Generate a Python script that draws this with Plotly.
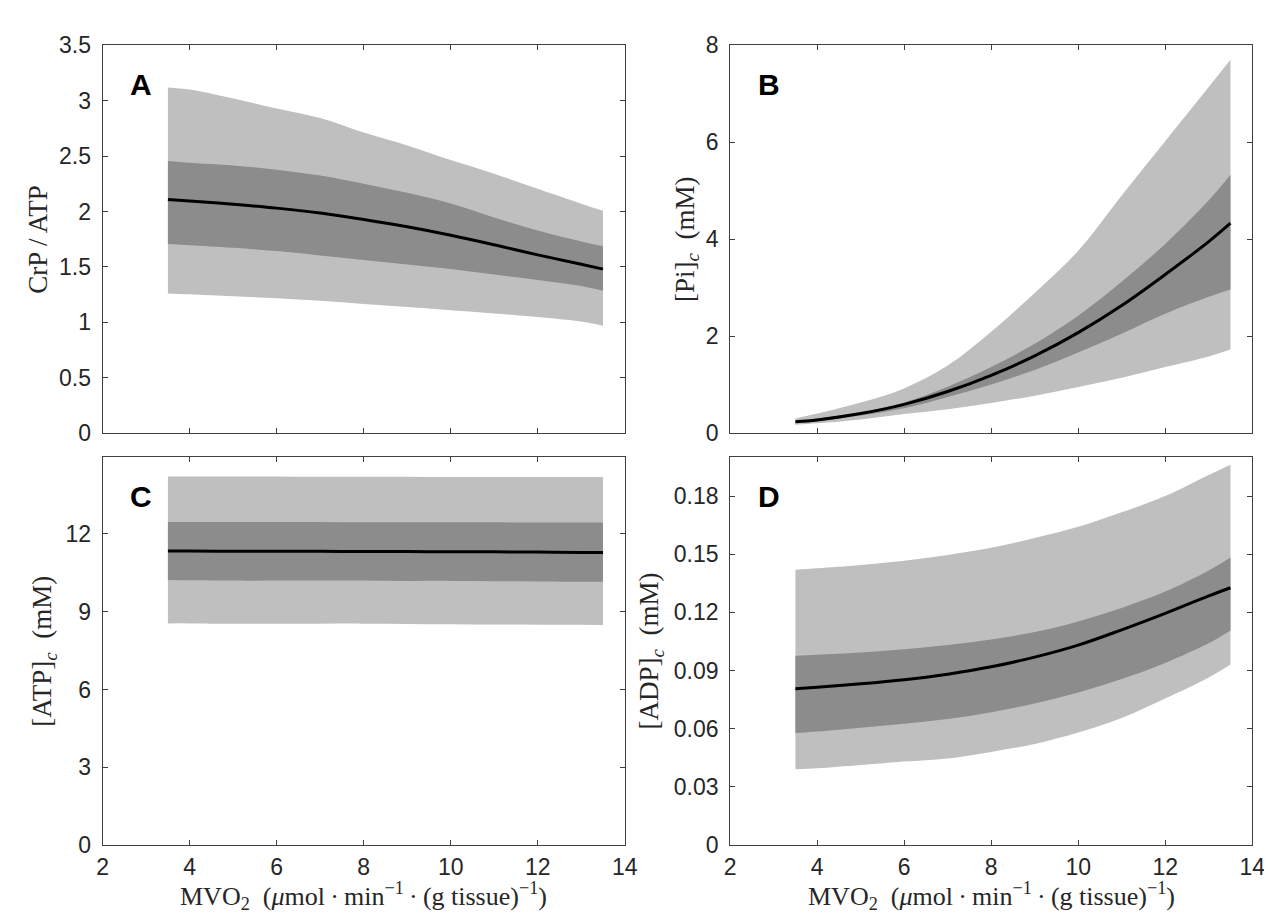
import plotly.graph_objects as go

# ---------------- data ----------------
mvo2 = [3.5, 4, 5, 6, 7, 8, 9, 10, 11, 12, 13, 13.5]

# Panel A: CrP/ATP
a_mean = [2.108, 2.095, 2.065, 2.030, 1.985, 1.927, 1.861, 1.785, 1.699, 1.608, 1.523, 1.479]
a_in_hi = [2.456, 2.440, 2.415, 2.377, 2.324, 2.250, 2.168, 2.071, 1.945, 1.828, 1.729, 1.686]
a_in_lo = [1.706, 1.695, 1.672, 1.642, 1.603, 1.562, 1.522, 1.481, 1.431, 1.382, 1.327, 1.283]
a_out_hi = [3.120, 3.100, 3.020, 2.930, 2.843, 2.712, 2.596, 2.464, 2.340, 2.205, 2.070, 2.006]
a_out_lo = [1.260, 1.252, 1.235, 1.216, 1.193, 1.164, 1.137, 1.108, 1.079, 1.048, 1.006, 0.968]

# Panel B: [Pi]c
b_mean = [0.234, 0.27, 0.40, 0.59, 0.855, 1.19, 1.59, 2.07, 2.63, 3.27, 3.95, 4.33]
b_in_hi = [0.26, 0.30, 0.43, 0.63, 0.955, 1.36, 1.84, 2.42, 3.12, 3.90, 4.80, 5.33]
b_in_lo = [0.21, 0.24, 0.36, 0.51, 0.74, 1.00, 1.30, 1.66, 2.05, 2.46, 2.81, 2.96]
b_out_hi = [0.30, 0.40, 0.63, 0.92, 1.39, 2.09, 2.89, 3.76, 4.90, 6.02, 7.14, 7.70]
b_out_lo = [0.17, 0.20, 0.28, 0.39, 0.49, 0.62, 0.77, 0.95, 1.14, 1.36, 1.58, 1.72]

# Panel C: [ATP]c
c_mean = [11.34, 11.34, 11.33, 11.33, 11.33, 11.32, 11.32, 11.31, 11.31, 11.30, 11.29, 11.29]
c_in_hi = [12.46, 12.46, 12.46, 12.46, 12.46, 12.45, 12.45, 12.45, 12.45, 12.44, 12.44, 12.44]
c_in_lo = [10.22, 10.21, 10.20, 10.20, 10.20, 10.20, 10.19, 10.19, 10.18, 10.17, 10.16, 10.16]
c_out_hi = [14.22, 14.22, 14.22, 14.22, 14.21, 14.21, 14.21, 14.20, 14.20, 14.20, 14.20, 14.20]
c_out_lo = [8.55, 8.55, 8.54, 8.54, 8.54, 8.54, 8.53, 8.52, 8.51, 8.50, 8.50, 8.49]

# Panel D: [ADP]c
d_mean = [0.0806, 0.0814, 0.0831, 0.0852, 0.0881, 0.0919, 0.0969, 0.1031, 0.1110, 0.1195, 0.1285, 0.1327]
d_in_hi = [0.0976, 0.0981, 0.0993, 0.1010, 0.1031, 0.1060, 0.1098, 0.1153, 0.1223, 0.1307, 0.1416, 0.1483]
d_in_lo = [0.0577, 0.0585, 0.0605, 0.0625, 0.0650, 0.0685, 0.0730, 0.0786, 0.0856, 0.0939, 0.1040, 0.1106]
d_out_hi = [0.1420, 0.1427, 0.1444, 0.1466, 0.1496, 0.1533, 0.1583, 0.1641, 0.1716, 0.1800, 0.1909, 0.1962]
d_out_lo = [0.0391, 0.0396, 0.0413, 0.0430, 0.0446, 0.0480, 0.0521, 0.0580, 0.0655, 0.0755, 0.0864, 0.0931]

x_ticks = [2, 4, 6, 8, 10, 12, 14]
a_ticks = [0, 0.5, 1, 1.5, 2, 2.5, 3, 3.5]
a_ticktext = ["0", "0.5", "1", "1.5", "2", "2.5", "3", "3.5"]
b_ticks = [0, 2, 4, 6, 8]
c_ticks = [0, 3, 6, 9, 12]
d_ticks = [0, 0.03, 0.06, 0.09, 0.12, 0.15, 0.18]
d_ticktext = ["0", "0.03", "0.06", "0.09", "0.12", "0.15", "0.18"]

panel_letters = ["A", "B", "C", "D"]
y_titles = ["CrP / ATP", "[Pi]<sub><i>c</i></sub>  (mM)",
            "[ATP]<sub><i>c</i></sub>  (mM)", "[ADP]<sub><i>c</i></sub>  (mM)"]
x_title = ("MVO<sub>2</sub>  (<i>μ</i>mol\u2009·\u2009min<sup>−1</sup>\u2009·\u2009"
           "(g tissue)<sup>−1</sup>)")

LIGHT = "#bfbfbf"
DARK = "#8c8c8c"
W, H = 1272, 917
SERIF = "Liberation Serif, Times New Roman, serif"
SANS = "Liberation Sans, Arial, sans-serif"

fig = go.Figure()

panels = [
    (a_mean, a_in_hi, a_in_lo, a_out_hi, a_out_lo),
    (b_mean, b_in_hi, b_in_lo, b_out_hi, b_out_lo),
    (c_mean, c_in_hi, c_in_lo, c_out_hi, c_out_lo),
    (d_mean, d_in_hi, d_in_lo, d_out_hi, d_out_lo),
]

for i, (m, ihi, ilo, ohi, olo) in enumerate(panels):
    xa = "x" if i == 0 else f"x{i+1}"
    ya = "y" if i == 0 else f"y{i+1}"
    common = dict(mode="lines", hoverinfo="skip", showlegend=False, xaxis=xa, yaxis=ya)
    fig.add_trace(go.Scatter(x=mvo2, y=olo, line=dict(width=0, color=LIGHT, shape="spline"), **common))
    fig.add_trace(go.Scatter(x=mvo2, y=ohi, fill="tonexty", fillcolor=LIGHT,
                             line=dict(width=0, color=LIGHT, shape="spline"), **common))
    fig.add_trace(go.Scatter(x=mvo2, y=ilo, line=dict(width=0, color=DARK, shape="spline"), **common))
    fig.add_trace(go.Scatter(x=mvo2, y=ihi, fill="tonexty", fillcolor=DARK,
                             line=dict(width=0, color=DARK, shape="spline"), **common))
    fig.add_trace(go.Scatter(x=mvo2, y=m, mode="lines", line=dict(color="black", width=3, shape="spline"),
                             showlegend=False, xaxis=xa, yaxis=ya))

# pixel geometry of plot areas
left_x = (90, 620)
right_x = (727, 1257)
top_y = (25, 424)
bot_y = (449, 848)

def xdom(p):
    return [p[0] / W, p[1] / W]

def ydom(p):
    return [1 - p[1] / H, 1 - p[0] / H]

AX = dict(showline=True, linecolor="#404040", linewidth=1, mirror="ticks", ticks="inside",
          ticklen=5, tickcolor="#404040", showgrid=False, zeroline=False,
          tickfont=dict(family=SANS, size=23, color="#262626"))

layout = dict(width=W, height=H, margin=dict(l=0, r=0, t=0, b=0),
              plot_bgcolor="white", paper_bgcolor="white", showlegend=False)

specs = [
    (left_x, top_y, [0, 3.5], a_ticks, a_ticktext, False),
    (right_x, top_y, [0, 8], b_ticks, [str(v) for v in b_ticks], False),
    (left_x, bot_y, [0, 14.96], c_ticks, [str(v) for v in c_ticks], True),
    (right_x, bot_y, [0, 0.2], d_ticks, d_ticktext, True),
]

annotations = []
for i, (px, py, yr, yt, ytt, showx) in enumerate(specs):
    n = "" if i == 0 else str(i + 1)
    layout[f"xaxis{n}"] = dict(AX, domain=xdom(px), anchor=f"y{n}", range=[2, 14],
                               tickvals=x_ticks, ticktext=[str(v) for v in x_ticks],
                               showticklabels=showx, ticklabelstandoff=1)
    layout[f"yaxis{n}"] = dict(AX, domain=ydom(py), anchor=f"x{n}", range=yr,
                               tickvals=yt, ticktext=ytt, ticklabelstandoff=6)
    annotations.append(dict(text=f"<b>{panel_letters[i]}</b>", xref=f"x{n} domain", yref=f"y{n} domain",
                            x=0.074, y=0.898, showarrow=False, xanchor="center", yanchor="middle",
                            font=dict(family=SANS, size=30, color="black")))

# y-axis titles (pixel x-centres)
ytitle_x = [24, 683, 31, 647]
for i, (px, py, *_rest) in enumerate(specs):
    annotations.append(dict(text=y_titles[i], xref="paper", yref="paper",
                            x=ytitle_x[i] / W, y=1 - (py[0] + py[1]) / 2 / H, textangle=-90,
                            showarrow=False, xanchor="center", yanchor="middle",
                            font=dict(family=SERIF, size=27, color="#262626")))
# x-axis titles
for px in (left_x, right_x):
    annotations.append(dict(text=x_title, xref="paper", yref="paper",
                            x=(px[0] + px[1]) / 2 / W, y=1 - 901 / H, showarrow=False,
                            xanchor="center", yanchor="middle",
                            font=dict(family=SERIF, size=26, color="#262626")))

layout["annotations"] = annotations
fig.update_layout(**layout)
fig.write_html("out.html")
